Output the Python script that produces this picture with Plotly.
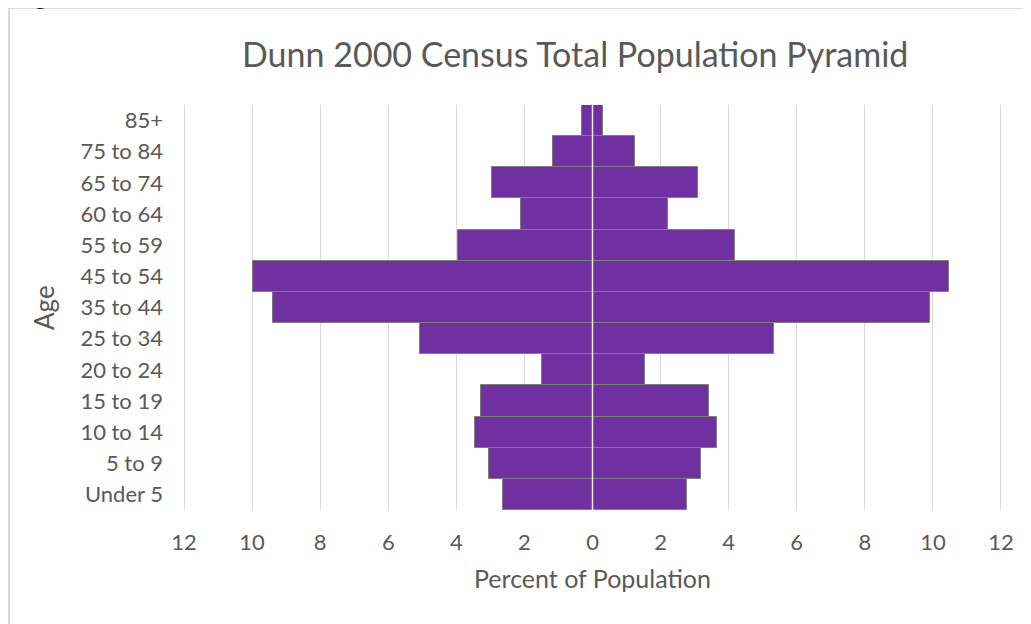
import plotly.graph_objects as go

ages = ["Under 5", "5 to 9", "10 to 14", "15 to 19", "20 to 24", "25 to 34",
        "35 to 44", "45 to 54", "55 to 59", "60 to 64", "65 to 74", "75 to 84", "85+"]
male = [2.64, 3.05, 3.46, 3.27, 1.47, 5.08, 9.40, 9.97, 3.96, 2.11, 2.94, 1.17, 0.31]
female = [2.79, 3.20, 3.66, 3.42, 1.55, 5.34, 9.91, 10.48, 4.18, 2.22, 3.09, 1.25, 0.30]
tick_vals = [-12, -10, -8, -6, -4, -2, 0, 2, 4, 6, 8, 10, 12]
tick_text = [str(abs(v)) for v in tick_vals]

PURPLE = "#7030A0"
EDGE = "#7f7f7f"
TXT = "#595959"
GRID = "#d9d9d9"
FONT = "Lato"

fig = go.Figure()
fig.add_trace(go.Bar(y=ages, x=[-v for v in male], orientation="h", name="Male",
                     marker=dict(color=PURPLE, line=dict(color=EDGE, width=1)),
                     hoverinfo="skip"))
fig.add_trace(go.Bar(y=ages, x=female, orientation="h", name="Female",
                     marker=dict(color=PURPLE, line=dict(color=EDGE, width=1)),
                     hoverinfo="skip"))

fig.update_layout(
    width=1031, height=624,
    margin=dict(l=175, r=37, t=97, b=122),
    paper_bgcolor="white", plot_bgcolor="white",
    barmode="relative", bargap=0,
    showlegend=False,
    font=dict(family=FONT, color=TXT),
    xaxis=dict(range=[-12.03, 12.03], tickvals=tick_vals, ticktext=tick_text,
               showgrid=True, gridcolor=GRID, gridwidth=1, zeroline=False,
               showline=False, ticks="", ticklabelstandoff=17,
               tickfont=dict(family=FONT, size=22, color=TXT), fixedrange=True),
    yaxis=dict(categoryorder="array", categoryarray=ages, showgrid=False,
               zeroline=False, showline=False, ticks="", ticklabelstandoff=19,
               tickfont=dict(family=FONT, size=22, color=TXT), fixedrange=True),
)

# zero axis line drawn over the bars
fig.add_shape(type="line", xref="x", yref="paper", x0=0, x1=0, y0=0, y1=1,
              line=dict(color="#ebebeb", width=1.5), layer="above")

# chart border
fig.add_shape(type="rect", xref="paper", yref="paper",
              x0=-0.2125, x1=1.3, y0=-0.5, y1=1.2395,
              line=dict(color=GRID, width=2), fillcolor="rgba(0,0,0,0)", layer="below")

fig.add_annotation(text="Dunn 2000 Census Total Population Pyramid", xref="paper", yref="paper",
                   x=0.479, y=1.126, xanchor="center", yanchor="middle", showarrow=False,
                   font=dict(family=FONT, size=34, color=TXT))
fig.add_annotation(text="Percent of Population", xref="paper", yref="paper",
                   x=0.5, y=-0.1667, xanchor="center", yanchor="middle", showarrow=False,
                   font=dict(family=FONT, size=25, color=TXT))
fig.add_annotation(text="Age", xref="paper", yref="paper", textangle=-90,
                   x=-0.1697, y=0.4988, xanchor="center", yanchor="middle", showarrow=False,
                   font=dict(family=FONT, size=26, color=TXT))
# cropped text from the surrounding document
fig.add_annotation(text="g", xref="paper", yref="paper",
                   x=-0.1746, y=1.2667, xanchor="center", yanchor="middle", showarrow=False,
                   font=dict(family="Liberation Serif", size=22, color="black"))

fig.write_html("out.html")
